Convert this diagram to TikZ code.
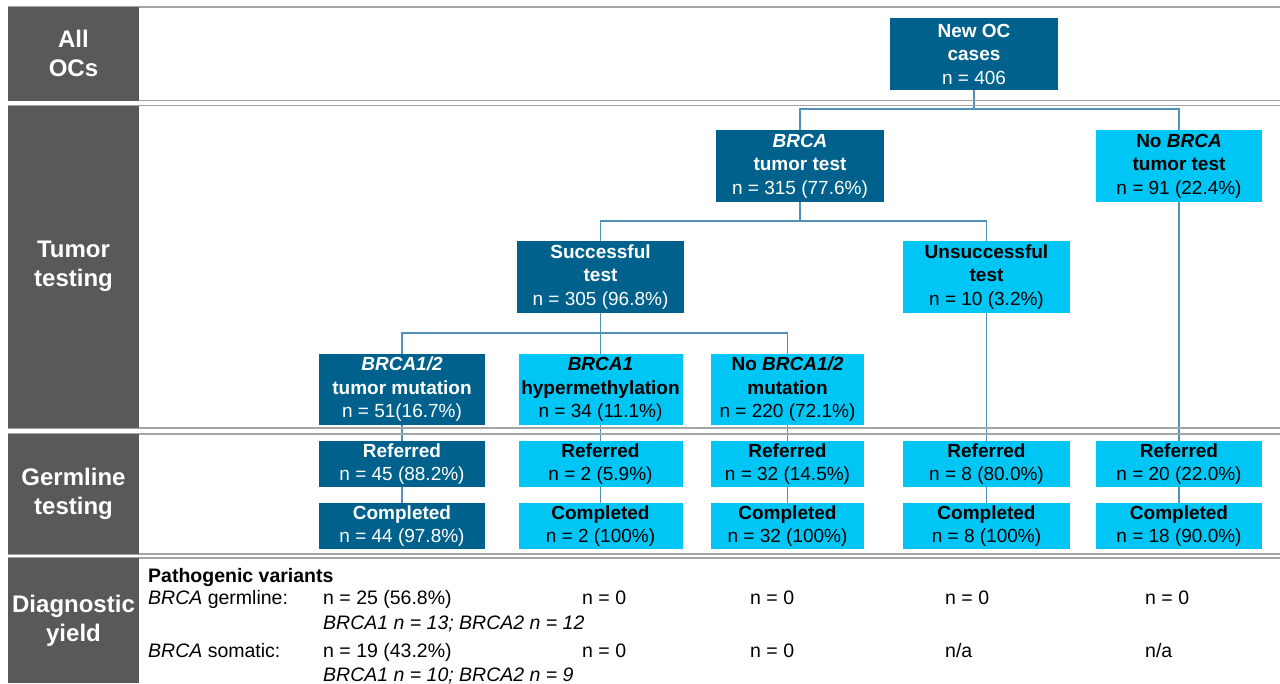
\documentclass[tikz,border=0pt]{standalone}
\usepackage{fontspec}
\setmainfont{Liberation Sans}
\usetikzlibrary{backgrounds}
\definecolor{dkteal}{RGB}{0,98,140}
\definecolor{ltcyan}{RGB}{0,198,245}
\definecolor{lblgray}{RGB}{89,89,89}
\definecolor{rulegray}{RGB}{165,165,165}
\definecolor{linkblue}{RGB}{80,145,185}
\begin{document}
\begin{tikzpicture}[x=1pt,y=-1pt,
  boxbase/.style={rectangle, inner sep=0pt, outer sep=0pt, align=center,
    font=\fontsize{19}{23.5}\selectfont},
  dkbox/.style={boxbase, fill=dkteal, text=white},
  ltbox/.style={boxbase, fill=ltcyan, text=black},
  lbl/.style={rectangle, fill=lblgray, text=white, inner sep=0pt, outer sep=0pt,
    align=center, minimum width=131pt, font=\bfseries\fontsize{24}{29}\selectfont},
  rowrule/.style={draw=rulegray, line width=1.6pt},
  link/.style={draw=linkblue, line width=1.1pt},
  yieldtxt/.style={anchor=base west, inner sep=0pt, font=\fontsize{19.5}{23}\selectfont},
]
\useasboundingbox (0,0) rectangle (1280,683);

% row rules
\draw[rowrule] (8,7) -- (1280,7);
\draw[rowrule] (8,100.5) -- (1280,100.5);
\draw[rowrule] (8,105.5) -- (1280,105.5);
\draw[rowrule] (8,428) -- (1280,428);
\draw[rowrule] (8,434) -- (1280,434);
\draw[rowrule] (8,554) -- (1280,554);
\draw[rowrule] (8,558) -- (1280,558);

% row labels
\node[lbl, minimum height=93.5pt] (l1) at (73.5,53.75) {All\\OCs};
\node[lbl, minimum height=322.5pt] (l2) at (73.5,266.75) {Tumor\\testing};
\node[lbl, minimum height=120pt] (l3) at (73.5,494) {Germline\\testing};
\node[lbl, minimum height=125pt] (l4) at (73.5,620.5) {Diagnostic\\yield};

% tree boxes
\node[dkbox, minimum width=168pt, minimum height=72pt] (new) at (974,54)
  {\textbf{New OC}\\\textbf{cases}\\n = 406};
\node[dkbox, minimum width=168pt, minimum height=72pt] (brca) at (800,166)
  {\textbf{\textit{BRCA}}\\\textbf{tumor test}\\n = 315 (77.6\%)};
\node[ltbox, minimum width=166pt, minimum height=72pt] (nobrca) at (1179,166)
  {\textbf{No \textit{BRCA}}\\\textbf{tumor test}\\n = 91 (22.4\%)};
\node[dkbox, minimum width=167pt, minimum height=72pt] (succ) at (600.5,277)
  {\textbf{Successful}\\\textbf{test}\\n = 305 (96.8\%)};
\node[ltbox, minimum width=167pt, minimum height=72pt] (unsucc) at (986.5,277)
  {\textbf{Unsuccessful}\\\textbf{test}\\n = 10 (3.2\%)};
\node[dkbox, minimum width=166pt, minimum height=71pt] (mut) at (402,389.5)
  {\textbf{\textit{BRCA1/2}}\\\textbf{tumor mutation}\\n = 51(16.7\%)};
\node[ltbox, minimum width=164pt, minimum height=71pt] (hyp) at (600.5,389.5)
  {\textbf{\textit{BRCA1}}\\\textbf{hypermethylation}\\n = 34 (11.1\%)};
\node[ltbox, minimum width=153pt, minimum height=71pt] (nomut) at (787.5,389.5)
  {\textbf{No \textit{BRCA1/2}}\\\textbf{mutation}\\n = 220 (72.1\%)};

% germline boxes
\node[dkbox, minimum width=166pt, minimum height=46pt] (ref1) at (402,464) {\textbf{Referred}\\n = 45 (88.2\%)};
\node[dkbox, minimum width=166pt, minimum height=46pt] (comp1) at (402,526) {\textbf{Completed}\\n = 44 (97.8\%)};
\node[ltbox, minimum width=164pt, minimum height=46pt] (ref2) at (600.5,464) {\textbf{Referred}\\n = 2 (5.9\%)};
\node[ltbox, minimum width=164pt, minimum height=46pt] (comp2) at (600.5,526) {\textbf{Completed}\\n = 2 (100\%)};
\node[ltbox, minimum width=153pt, minimum height=46pt] (ref3) at (787.5,464) {\textbf{Referred}\\n = 32 (14.5\%)};
\node[ltbox, minimum width=153pt, minimum height=46pt] (comp3) at (787.5,526) {\textbf{Completed}\\n = 32 (100\%)};
\node[ltbox, minimum width=167pt, minimum height=46pt] (ref4) at (986.5,464) {\textbf{Referred}\\n = 8 (80.0\%)};
\node[ltbox, minimum width=167pt, minimum height=46pt] (comp4) at (986.5,526) {\textbf{Completed}\\n = 8 (100\%)};
\node[ltbox, minimum width=166pt, minimum height=46pt] (ref5) at (1179,464) {\textbf{Referred}\\n = 20 (22.0\%)};
\node[ltbox, minimum width=166pt, minimum height=46pt] (comp5) at (1179,526) {\textbf{Completed}\\n = 18 (90.0\%)};

% junctions
\coordinate (j1) at (974,109);
\coordinate (j2) at (800,221);
\coordinate (j3) at (600.5,333);

\begin{scope}[on background layer]
\draw[link] (new.south) -- (j1);
\draw[link] (brca.north) |- (j1) -| (nobrca.north);
\draw[link] (brca.south) -- (j2);
\draw[link] (succ.north) |- (j2) -| (unsucc.north);
\draw[link] (succ.south) -- (j3);
\draw[link] (mut.north) |- (j3) -| (nomut.north);
\draw[link] (j3) -- (hyp.north);
\draw[link] (mut.south) -- (ref1.north);
\draw[link] (ref1.south) -- (comp1.north);
\draw[link] (hyp.south) -- (ref2.north);
\draw[link] (ref2.south) -- (comp2.north);
\draw[link] (nomut.south) -- (ref3.north);
\draw[link] (ref3.south) -- (comp3.north);
\draw[link] (unsucc.south) -- (ref4.north);
\draw[link] (ref4.south) -- (comp4.north);
\draw[link] (nobrca.south) -- (ref5.north);
\draw[link] (ref5.south) -- (comp5.north);
\end{scope}

% diagnostic yield
\node[yieldtxt, font=\bfseries\fontsize{19.5}{23}\selectfont] (pv) at (148,582) {Pathogenic variants};
\node[yieldtxt] (gl) at (148,604) {\textit{BRCA} germline:};
\node[yieldtxt] (gl1) at (323,604) {n = 25 (56.8\%)};
\node[yieldtxt] (gl1b) at (323,629) {\textit{BRCA1 n = 13; BRCA2 n = 12}};
\node[yieldtxt] (gl2) at (582,604) {n = 0};
\node[yieldtxt] (gl3) at (750,604) {n = 0};
\node[yieldtxt] (gl4) at (945,604) {n = 0};
\node[yieldtxt] (gl5) at (1145,604) {n = 0};
\node[yieldtxt] (sm) at (148,657) {\textit{BRCA} somatic:};
\node[yieldtxt] (sm1) at (323,657) {n = 19 (43.2\%)};
\node[yieldtxt] (sm1b) at (323,681) {\textit{BRCA1 n = 10; BRCA2 n = 9}};
\node[yieldtxt] (sm2) at (582,657) {n = 0};
\node[yieldtxt] (sm3) at (750,657) {n = 0};
\node[yieldtxt] (sm4) at (945,657) {n/a};
\node[yieldtxt] (sm5) at (1145,657) {n/a};
\end{tikzpicture}
\end{document}
